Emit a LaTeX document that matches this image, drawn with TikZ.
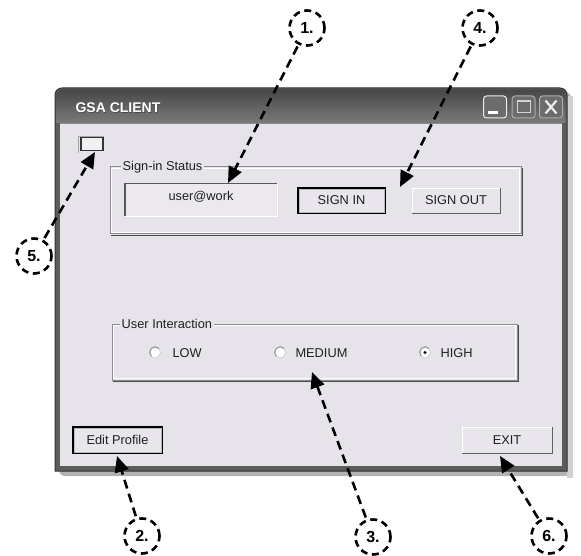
\documentclass[tikz,border=0pt]{standalone}
\usepackage{fontspec}
\setmainfont{Liberation Sans}
\usetikzlibrary{arrows.meta}

\definecolor{clientbg}{HTML}{E6E4EA}
\definecolor{framegrey}{HTML}{5C5C5C}
\definecolor{edgedark}{HTML}{333333}
\definecolor{etch}{HTML}{8E8C92}
\definecolor{btnface}{HTML}{E8E6EC}

\begin{document}
\begin{tikzpicture}[x=1pt,y=-1pt,
  uitext/.style={font=\fontsize{12.8}{14}\selectfont, text=black!88},
  callout/.style={circle, draw=black, line width=2.6pt,
    dash pattern=on 7pt off 4.6pt, minimum size=35pt, inner sep=0pt,
    font=\fontsize{16}{16}\selectfont\bfseries},
  pointer/.style={draw=black, line width=2.6pt, dash pattern=on 9pt off 5.5pt,
    shorten <=2pt, -{Triangle[length=16pt,width=14pt]}},
  raisedbtn/.style={uitext, draw=gray!75!black, line width=0.8pt, fill=btnface,
    inner sep=0pt},
  defaultbtn/.style={uitext, draw=black, line width=1.4pt, fill=btnface,
    inner sep=0pt},
  groupbox/.style={draw=etch, line width=1pt},
  grouplabel/.style={uitext, fill=clientbg, inner sep=1.5pt, anchor=west},
  radio/.style={circle, fill=white, draw=gray!45, line width=0.6pt,
    minimum size=11pt, inner sep=0pt},
  titlebtn/.style={draw=gray!65, line width=1pt, fill=framegrey!90!white,
    rounded corners=3pt, minimum width=23pt, minimum height=22pt, inner sep=0pt}
]
\useasboundingbox (0,0) rectangle (581,556);

% --- window shadow and frame ---
\fill[black!30, rounded corners=6pt] (59,92) rectangle (571,476);
\fill[black!18] (567,96) rectangle (573,478);
\path[fill=framegrey, draw=edgedark, line width=1pt]
  (55,471) {[rounded corners=7pt] -- (55,88) -- (567,88)} -- (567,471) -- cycle;
% title bar
\shade[top color=black!72, bottom color=black!52]
  (56.5,90) {[rounded corners=6pt] -- (56.5,89.5) -- (565.5,89.5)} -- (565.5,123) -- (56.5,123) -- cycle;
\node[anchor=west, text=black!70, font=\fontsize{14}{14}\selectfont\bfseries]
  at (72.8,108.8) {GSA CLIENT};
\node[anchor=west, text=white, font=\fontsize{14}{14}\selectfont\bfseries]
  (title) at (72,108) {GSA CLIENT};

% title bar buttons
\node[titlebtn, draw=gray!15] (minbtn) at (495,107) {};
\fill[white] (488,111) rectangle (498,114.5);
\node[titlebtn] (maxbtn) at (523.5,107) {};
\draw[gray!35, line width=1pt] (517,101) rectangle (530,113);
\draw[gray!35, line width=2pt] (517,101.5) -- (530,101.5);
\node[titlebtn] (closebtn) at (551,107) {};
\draw[gray!15, line width=2.2pt] (545.5,100.5) -- (556.5,113.5)
  (556.5,100.5) -- (545.5,113.5);

% client area
\fill[clientbg] (60,123) rectangle (562,466);
\draw[black!45, line width=0.8pt] (60,123) -- (562,123);

% small indicator box
\node[draw=black!80, line width=1.2pt, fill=clientbg!60!white,
  minimum width=22pt, minimum height=13pt, inner sep=0pt] (indicator) at (92,144) {};
\draw[gray!70, line width=1pt] (indicator.south west) ++(-1.5,1.5) -- ++(0,-16) -- ++(25,0);

% --- Sign-in Status group ---
\draw[groupbox] (110,167) rectangle (521,234);
\draw[white, line width=0.8pt] (111.5,168.5) -- (111.5,232.5) -- (519.5,232.5) -- (519.5,168.5) -- cycle;
\draw[gray!60!black, line width=1pt] (522,168) -- (522,235.5) -- (111,235.5);
\node[grouplabel] (signlbl) at (121,167) {Sign-in Status};

\node[uitext, minimum width=152pt, minimum height=32pt, inner sep=0pt,
  fill=clientbg!80!white, text depth=0pt] (status) at (201,200) {};
\draw[gray!70!black, line width=1.4pt] (status.south west) -- (status.north west) -- (status.north east);
\draw[white, line width=1.2pt] (status.north east) -- (status.south east) -- (status.south west);
\node[uitext] (user) at (201,196.5) {user@work};

\node[defaultbtn, minimum width=87pt, minimum height=25pt] (signin) at (341.5,200.5) {SIGN IN};
\draw[gray!55, line width=0.6pt] ([shift={(1.6,-1.6)}]signin.south west) rectangle ([shift={(-1.6,1.6)}]signin.north east);
\node[raisedbtn, minimum width=88pt, minimum height=25pt] (signout) at (456,200.5) {SIGN OUT};
\draw[white, line width=1.2pt] ([shift={(0.8,-0.8)}]signout.south west) -- ([shift={(0.8,0.8)}]signout.north west) -- ([shift={(-0.8,0.8)}]signout.north east);

% --- User Interaction group ---
\draw[groupbox] (112,324) rectangle (517,380);
\draw[white, line width=0.8pt] (113.5,325.5) -- (113.5,378.5) -- (515.5,378.5) -- (515.5,325.5) -- cycle;
\draw[gray!60!black, line width=1pt] (518,325) -- (518,381.5) -- (113,381.5);
\node[grouplabel] (uilbl) at (120,323.5) {User Interaction};

\node[radio] (rlow) at (155,352.5) {};
\node[radio] (rmed) at (280,352.5) {};
\node[radio] (rhigh) at (425,352.5) {};
\foreach \r in {rlow,rmed,rhigh}
  \draw[gray!80, line width=1.1pt] (\r.45) arc[start angle=45, end angle=225, radius=5.5pt];
\fill[black] (rhigh.center) circle[radius=1.7pt];
\node[uitext, anchor=west] (low) at (169,353) {LOW};
\node[uitext, anchor=west] (med) at (292,353) {MEDIUM};
\node[uitext, anchor=west] (high) at (437,353) {HIGH};

% --- bottom buttons ---
\node[defaultbtn, minimum width=89pt, minimum height=26pt] (edit) at (117.5,440) {Edit Profile};
\draw[gray!55, line width=0.6pt] ([shift={(1.6,-1.6)}]edit.south west) rectangle ([shift={(-1.6,1.6)}]edit.north east);
\node[raisedbtn, minimum width=90pt, minimum height=26pt] (exit) at (507,440) {EXIT};
\draw[white, line width=1.2pt] ([shift={(0.8,-0.8)}]exit.south west) -- ([shift={(0.8,0.8)}]exit.north west) -- ([shift={(-0.8,0.8)}]exit.north east);

% --- numbered callouts ---
\node[callout] (c1) at (307,28) {1.};
\node[callout] (c4) at (480,28) {4.};
\node[callout] (c5) at (34,256) {5.};
\node[callout] (c2) at (142,536) {2.};
\node[callout] (c3) at (373,537) {3.};
\node[callout] (c6) at (549,536) {6.};

% pointer tips
\coordinate (t1) at (228,183);
\coordinate (t4) at (400,187);
\coordinate (t5) at (95,152);
\coordinate (t2) at (117,456);
\coordinate (t3) at (312,372);
\coordinate (t6) at (500,456);

\draw[pointer] (c1) -- (t1);
\draw[pointer] (c4) -- (t4);
\draw[pointer] (c5) -- (t5);
\draw[pointer] (c2) -- (t2);
\draw[pointer] (c3) -- (t3);
\draw[pointer] (c6) -- (t6);
\end{tikzpicture}
\end{document}
